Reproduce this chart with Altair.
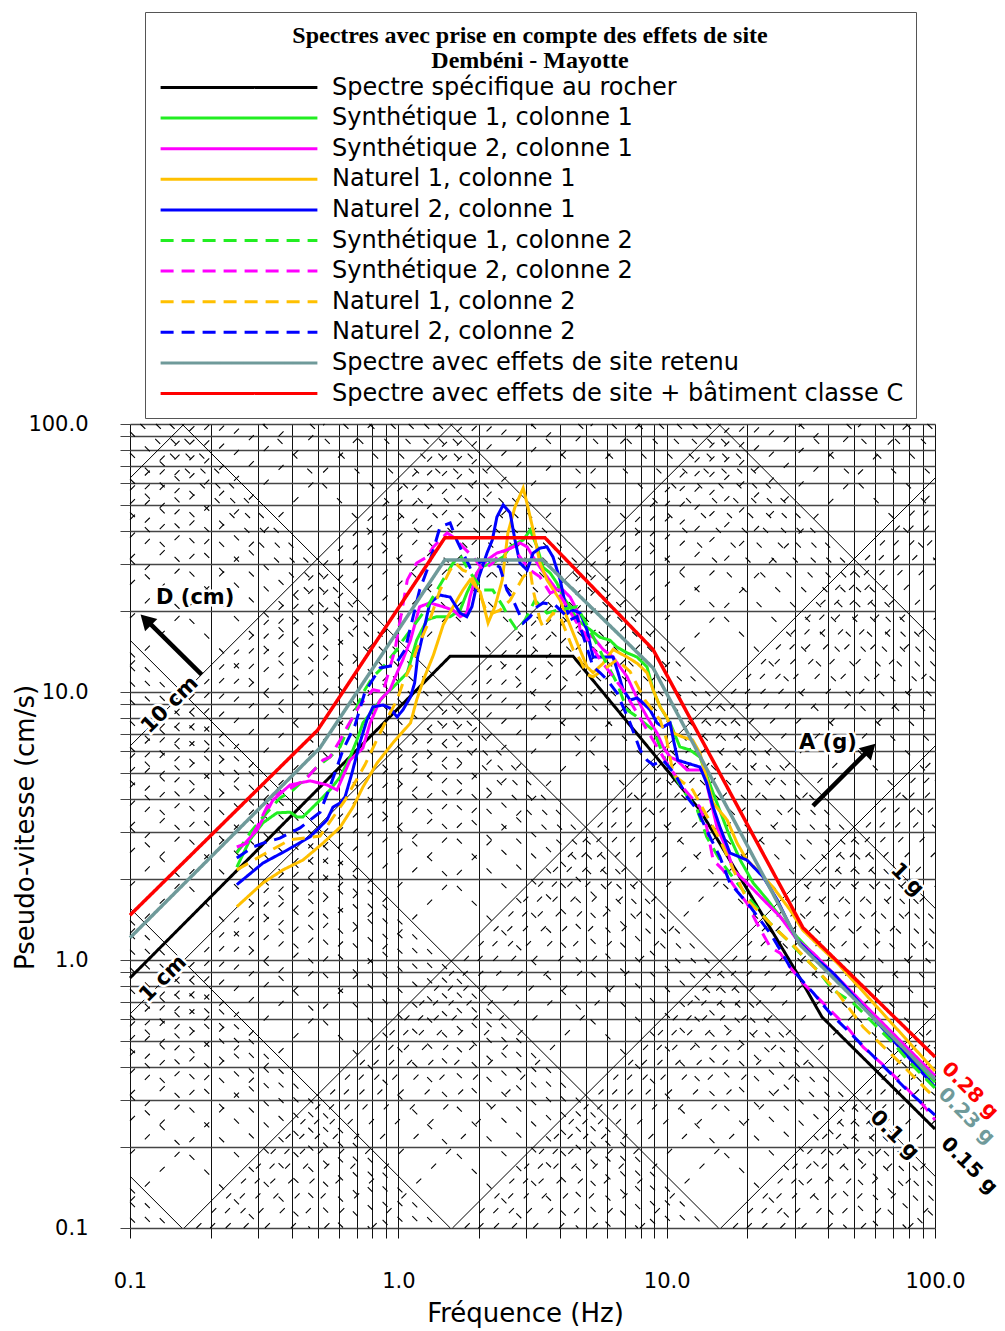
import numpy as np
import pandas as pd
import altair as alt

# ---------------- data (frequency Hz, pseudo-velocity cm/s) ----------------
series_names = [
    "Spectre spécifique au rocher",
    "Synthétique 1, colonne 1",
    "Synthétique 2, colonne 1",
    "Naturel 1, colonne 1",
    "Naturel 2, colonne 1",
    "Synthétique 1, colonne 2",
    "Synthétique 2, colonne 2",
    "Naturel 1, colonne 2",
    "Naturel 2, colonne 2",
    "Spectre avec effets de site retenu",
    "Spectre avec effets de site + bâtiment classe C",
]
series_colors = ["#000000", "#22ee22", "#ff00ff", "#ffc000", "#0000ff",
                 "#22ee22", "#ff00ff", "#ffc000", "#0000ff", "#6f9a9a", "#ff0000"]
series_dash = [[1, 0]] * 5 + [[13, 8]] * 4 + [[1, 0]] * 2

rock = [(0.1, 0.857), (1.56, 13.6), (4.48, 13.6), (13.3, 3.63), (30.6, 0.894),
        (37.9, 0.613), (100, 0.234)]

synth1_c1 = [(0.25, 2.22), (0.28, 2.81), (0.313, 3.25), (0.353, 3.54), (0.395, 3.56),
             (0.419, 3.42), (0.441, 3.42), (0.498, 3.85), (0.556, 4.31), (0.607, 4.82),
             (0.661, 5.72), (0.701, 6.62), (0.738, 7.66), (0.804, 8.57), (0.877, 9.58),
             (0.955, 10.4), (1.08, 11.8), (1.17, 15.6), (1.28, 18.6), (1.39, 19.1),
             (1.56, 19.1), (1.70, 20.2), (1.80, 23.4), (1.90, 26.2), (2.02, 29.2),
             (2.25, 30.3), (2.46, 31.9), (2.61, 34.8), (2.77, 36.0), (2.92, 36.9),
             (3.10, 40.2), (3.29, 34.8), (3.46, 29.2), (3.68, 27.8), (3.90, 25.5),
             (4.11, 22.6), (4.37, 20.8), (4.63, 18.6), (5.65, 16.0), (6.15, 15.6),
             (6.53, 14.7), (7.12, 14.0), (7.76, 13.5), (8.45, 12.4), (8.90, 10.2),
             (9.45, 8.80), (10.3, 7.66), (11.2, 6.24), (12.2, 6.08), (13.3, 5.72),
             (14.9, 4.20), (17.2, 2.88), (18.8, 2.36), (21.0, 1.94), (23.7, 1.68),
             (26.5, 1.45), (30.6, 1.22), (100, 0.35)]

synth2_c1 = [(0.25, 2.53), (0.297, 3.05), (0.341, 3.95), (0.395, 4.50), (0.469, 4.66),
             (0.542, 4.50), (0.591, 4.31), (0.661, 5.57), (0.738, 6.18), (0.785, 7.66),
             (0.855, 9.33), (0.931, 10.2), (0.989, 11.8), (1.04, 13.2), (1.11, 15.6),
             (1.20, 20.8), (1.31, 21.5), (1.47, 20.8), (1.60, 20.2), (1.70, 19.1),
             (1.80, 19.7), (1.85, 22.6), (1.96, 27.8), (2.14, 31.1), (2.33, 33.0),
             (2.54, 33.9), (2.68, 34.8), (2.84, 36.0), (3.02, 34.8), (3.18, 31.9),
             (3.37, 29.2), (3.90, 24.0), (4.11, 24.0), (4.37, 22.6), (4.63, 20.2),
             (4.76, 17.0), (5.32, 16.0), (5.80, 14.4), (6.31, 13.5), (6.70, 12.4),
             (7.12, 11.4), (7.50, 10.2), (8.05, 8.80), (8.45, 8.07), (9.21, 7.03),
             (9.70, 6.24), (10.3, 5.72), (10.9, 5.57), (11.9, 5.12), (13.7, 5.12),
             (15.4, 3.13), (16.8, 2.57), (17.7, 2.17), (19.9, 1.94), (22.9, 1.68),
             (26.5, 1.45), (30.6, 1.19), (35.2, 1.06), (100, 0.37)]

natural1_c1 = [(0.25, 1.58), (0.313, 1.94), (0.372, 2.17), (0.441, 2.36), (0.524, 2.73),
               (0.607, 3.13), (0.678, 3.72), (0.738, 4.42), (0.833, 5.43), (0.955, 6.46),
               (1.11, 7.66), (1.17, 9.33), (1.24, 11.1), (1.35, 13.7), (1.47, 17.8),
               (1.60, 20.8), (1.74, 24.0), (1.85, 26.2), (2.02, 23.6), (2.16, 18.1),
               (2.29, 20.8), (2.44, 26.2), (2.56, 39.2), (2.72, 49.0), (2.92, 57.7),
               (3.04, 49.0), (3.18, 40.2), (3.37, 30.3), (3.58, 26.2), (4.01, 22.0),
               (4.48, 16.6), (5.05, 12.4), (5.32, 11.8), (5.80, 12.8), (6.31, 14.4),
               (7.12, 13.5), (7.76, 12.8), (8.45, 11.8), (8.90, 10.2), (9.45, 8.80),
               (10.0, 8.07), (10.6, 7.03), (11.5, 6.79), (12.5, 6.62), (13.3, 5.92),
               (14.9, 3.85), (16.8, 3.33), (18.3, 2.73), (19.9, 2.36), (21.7, 2.17),
               (24.9, 1.87), (28.8, 1.54), (32.2, 1.29), (37.3, 1.12), (43.2, 0.975),
               (100, 0.385)]

natural2_c1 = [(0.25, 1.91), (0.313, 2.30), (0.385, 2.57), (0.469, 2.88), (0.542, 3.33),
               (0.571, 3.72), (0.607, 3.85), (0.633, 4.06), (0.672, 4.99), (0.719, 6.46),
               (0.764, 7.87), (0.804, 8.80), (0.877, 8.94), (0.931, 8.71), (0.989, 8.07),
               (1.04, 8.57), (1.11, 9.58), (1.15, 10.8), (1.18, 13.5), (1.22, 15.6),
               (1.31, 21.5), (1.43, 23.0), (1.56, 22.6), (1.70, 19.7), (1.80, 19.1),
               (1.88, 20.8), (1.98, 26.2), (2.14, 33.0), (2.24, 36.9), (2.33, 45.0),
               (2.46, 49.9), (2.61, 46.6), (2.72, 36.9), (2.84, 30.3), (3.02, 28.5),
               (3.18, 33.0), (3.37, 34.4), (3.58, 34.8), (3.77, 31.9), (4.01, 26.2),
               (4.18, 21.5), (4.29, 19.7), (4.48, 20.2), (4.76, 19.7), (5.05, 17.0),
               (5.32, 13.5), (5.80, 13.5), (6.31, 13.5), (6.59, 11.8), (6.88, 10.2),
               (7.31, 9.33), (7.76, 9.50), (8.17, 9.10), (8.67, 8.57), (9.21, 7.66),
               (9.70, 7.40), (10.3, 7.66), (10.6, 6.62), (11.0, 5.57), (11.9, 5.43),
               (13.3, 5.25), (14.1, 4.57), (14.9, 3.72), (15.8, 3.13), (17.2, 2.51),
               (19.9, 2.36), (22.9, 2.04), (25.8, 1.68), (28.1, 1.41), (30.6, 1.19),
               (35.2, 1.03), (41.7, 0.894), (100, 0.336)]

synth1_c2 = [(0.25, 2.51), (0.28, 2.98), (0.313, 3.42), (0.362, 4.02), (0.405, 4.31),
             (0.457, 4.82), (0.498, 5.25), (0.556, 5.72), (0.607, 6.24), (0.661, 7.66),
             (0.701, 8.80), (0.738, 9.92), (0.804, 11.4), (0.877, 12.4), (0.989, 14.4),
             (1.04, 15.6), (1.26, 20.2), (1.52, 27.8), (1.60, 30.3), (1.70, 32.4),
             (1.80, 29.2), (1.90, 26.9), (2.07, 24.0), (2.25, 24.0), (2.46, 20.8),
             (2.61, 18.6), (2.77, 17.0), (2.97, 18.6), (3.23, 22.0), (3.58, 19.7),
             (3.90, 20.2), (4.63, 20.8), (5.18, 17.0), (5.80, 13.5), (6.53, 10.8),
             (7.12, 8.57), (7.76, 8.07), (8.90, 7.21), (9.45, 6.24), (10.0, 5.43),
             (11.5, 4.31), (13.0, 3.63), (14.1, 2.88), (15.8, 2.36), (18.3, 1.94),
             (21.0, 1.63), (24.3, 1.37), (28.1, 1.19), (31.4, 1.06), (36.4, 0.918),
             (41.7, 0.773), (49.5, 0.692), (58.8, 0.582), (69.8, 0.490), (80.8, 0.413),
             (100, 0.333)]

synth2_c2 = [(0.25, 2.64), (0.273, 2.73), (0.297, 3.13), (0.341, 4.13), (0.385, 4.31),
             (0.449, 4.70), (0.524, 5.57), (0.556, 5.72), (0.607, 6.62), (0.644, 7.40),
             (0.719, 8.94), (0.804, 10.2), (0.877, 10.0), (0.972, 14.4), (1.08, 26.2),
             (1.17, 30.3), (1.28, 31.9), (1.35, 34.8), (1.52, 39.2), (1.60, 37.9),
             (1.74, 34.8), (1.90, 31.9), (2.07, 28.5), (2.25, 30.3), (2.39, 33.0),
             (2.68, 34.8), (2.84, 31.9), (3.10, 28.5), (3.37, 26.9), (3.68, 23.4),
             (3.90, 24.0), (4.63, 18.1), (5.65, 13.2), (6.88, 10.2), (7.76, 8.35),
             (8.45, 7.21), (9.86, 5.57), (11.7, 4.31), (13.3, 3.72), (14.1, 3.13),
             (14.9, 2.36), (16.2, 2.17), (18.3, 1.82), (19.9, 1.63), (21.7, 1.37),
             (24.3, 1.12), (26.5, 1.06), (28.8, 0.942), (32.2, 0.820), (39.6, 0.668),
             (47.0, 0.562), (54.0, 0.473), (64.1, 0.406), (76.0, 0.342), (90.3, 0.288),
             (100, 0.253)]

natural1_c2 = [(0.25, 2.17), (0.313, 2.47), (0.395, 2.81), (0.511, 2.90), (0.633, 3.95),
               (0.751, 5.35), (0.855, 7.03), (0.931, 8.35), (0.989, 9.33), (1.04, 10.8),
               (1.11, 12.4), (1.17, 14.4), (1.31, 18.6), (1.43, 24.0), (1.56, 28.5),
               (1.63, 30.3), (1.74, 28.5), (1.85, 27.8), (2.02, 23.0), (2.14, 19.7),
               (2.25, 19.7), (2.39, 20.2), (2.61, 22.0), (2.92, 26.9), (3.10, 28.5),
               (3.18, 24.0), (3.37, 18.6), (3.46, 17.5), (3.77, 19.7), (4.01, 19.1),
               (4.48, 14.4), (4.76, 13.2), (5.05, 11.6), (5.32, 11.4), (6.00, 12.4),
               (6.53, 13.2), (7.31, 11.9), (8.30, 9.33), (9.45, 7.87), (10.0, 6.62),
               (10.6, 4.90), (12.5, 4.31), (15.8, 2.81), (19.9, 1.68), (21.7, 1.54),
               (25.8, 1.29), (28.8, 1.17), (34.2, 0.975), (41.7, 0.793), (54.0, 0.562),
               (72.2, 0.424), (93.4, 0.327), (100, 0.306)]

natural2_c2 = [(0.25, 2.40), (0.287, 2.64), (0.313, 2.73), (0.362, 2.85), (0.430, 3.11),
               (0.511, 3.56), (0.556, 4.42), (0.622, 6.08), (0.690, 7.53), (0.751, 10.0),
               (0.855, 12.3), (0.972, 12.6), (1.06, 14.4), (1.20, 24.0), (1.28, 28.5),
               (1.35, 33.9), (1.43, 41.3), (1.56, 42.7), (1.65, 36.9), (1.74, 33.0),
               (1.85, 29.2), (2.02, 30.5), (2.14, 31.1), (2.39, 29.2), (2.54, 24.0),
               (2.68, 22.0), (2.92, 18.1), (3.10, 19.1), (3.29, 20.8), (3.46, 21.5),
               (3.84, 21.1), (4.37, 18.6), (4.63, 19.1), (5.32, 12.4), (5.65, 11.8),
               (6.00, 11.1), (6.53, 9.92), (6.88, 8.80), (7.31, 7.66), (7.96, 6.08),
               (8.45, 5.57), (8.90, 5.35), (9.70, 5.57), (10.8, 4.90), (11.9, 4.06),
               (13.0, 3.63), (14.5, 2.88), (15.8, 2.42), (17.2, 1.94), (20.5, 1.58),
               (22.3, 1.41), (24.3, 1.26), (26.5, 1.09), (28.8, 0.942), (35.2, 0.753),
               (40.6, 0.634), (48.3, 0.534), (57.3, 0.450), (66.3, 0.389), (78.7, 0.327),
               (100, 0.264)]

site_retained = [(0.1, 1.21), (0.51, 6.18), (1.49, 31.1), (3.45, 31.1), (8.9, 12.3),
                 (31.4, 1.14), (100, 0.359)]

site_building_c = [(0.1, 1.47), (0.5, 7.2), (1.49, 37.6), (3.52, 37.6), (8.9, 14.4),
                   (32.2, 1.32), (100, 0.435)]

series_points = [rock, synth1_c1, synth2_c1, natural1_c1, natural2_c1,
                 synth1_c2, synth2_c2, natural1_c2, natural2_c2,
                 site_retained, site_building_c]
series_width = [3, 3, 3, 3, 3, 3, 3, 3, 3, 3.5, 3.5]

# tick values of the log axes
tick_vals = [round(m * 10.0 ** e, 6) for e in (-1, 0, 1) for m in range(1, 10)] + [100.0]

# annotations: text, f, v, angle, colour, size
annot = [("D (cm)", 0.175, 22.4, 0, "black", 21), ("A (g)", 39.9, 6.46, 0, "black", 21),
         ("10 cm", 0.141, 8.94, 315, "black", 21), ("1 cm", 0.133, 0.85, 315, "black", 21),
         ("1 g", 78.7, 1.99, 45, "black", 21), ("0.1 g", 70.5, 0.222, 45, "black", 21),
         ("0.15 g", 134.0, 0.171, 45, "black", 20),
         ("0.23 g", 131.0, 0.262, 45, "#6f9a9a", 20),
         ("0.28 g", 135.0, 0.326, 45, "#ff0000", 20)]
arrow_D = [(0.185, 11.6), (0.118, 18.1)]
arrow_A = [(35.1, 3.76), (56.3, 6.03)]
arrow_heads = [(0.1146, 18.6, 315), (57.3, 6.12, 45)]

# ---------------- build tables ----------------
rows = []
for name, pts, w in zip(series_names, series_points, series_width):
    for i, (f, v) in enumerate(pts):
        rows.append({"series": name, "f": f, "v": v, "i": i, "w": w})
curves = pd.DataFrame(rows)

# tripartite diagonals (constant displacement in cm, constant acceleration in g)
diag_rows = []
lid = 0
for e in range(-5, 5):
    for m in range(1, 10):
        D = m * 10.0 ** e
        flo = max(0.1, 0.1 / (2 * np.pi * D))
        fhi = min(100.0, 100.0 / (2 * np.pi * D))
        if fhi > flo * 1.0001:
            for fv in (flo, fhi):
                diag_rows.append({"id": lid, "f": fv, "v": 2 * np.pi * fv * D, "solid": m == 1})
            lid += 1
for e in range(-6, 4):
    for m in range(1, 10):
        A = m * 10.0 ** e
        c = A * 981.0 / (2 * np.pi)
        flo = max(0.1, c / 100.0)
        fhi = min(100.0, c / 0.1)
        if fhi > flo * 1.0001:
            for fv in (flo, fhi):
                diag_rows.append({"id": lid, "f": fv, "v": c / fv, "solid": m == 1})
            lid += 1
diag = pd.DataFrame(diag_rows)

# ---------------- encodings ----------------
label_expr = ("datum.value == 0.1 || datum.value == 1 || datum.value == 10 || "
              "datum.value == 100 ? format(datum.value, '.1f') : ''")
xscale = alt.Scale(type="log", domain=[0.1, 100], nice=False)
yscale = alt.Scale(type="log", domain=[0.1, 100], nice=False)

x_axis = alt.Axis(values=tick_vals, labelExpr=label_expr, grid=True, gridColor="#111111",
                  gridWidth=1, tickSize=10, tickColor="#111111", domain=False,
                  labelFont="DejaVu Sans", labelFontSize=21, labelPadding=32,
                  labelColor="black", labelOverlap=False, labelFlush=False,
                  title="Fréquence (Hz)", titleFont="DejaVu Sans", titleFontSize=26,
                  titleFontWeight="normal", titleColor="black", titleY=85, titleX=395,
                  titleBaseline="middle")
y_axis = alt.Axis(values=tick_vals, labelExpr=label_expr, grid=True, gridColor="#444444",
                  gridWidth=1.3, tickSize=10, tickColor="#444444", domain=False,
                  labelFont="DejaVu Sans", labelFontSize=21, labelPadding=32,
                  labelColor="black", labelOverlap=False, labelFlush=False,
                  title="Pseudo-vitesse (cm/s)", titleFont="DejaVu Sans", titleFontSize=26,
                  titleFontWeight="normal", titleColor="black", titleX=-105, titleY=403,
                  titleBaseline="middle", titleAngle=270)

X = alt.X("f:Q", scale=xscale, axis=x_axis)
Y = alt.Y("v:Q", scale=yscale, axis=y_axis)

diag_solid = alt.Chart(diag[diag["solid"]]).mark_line(
    color="black", strokeWidth=1).encode(x=X, y=Y, detail="id:N")
diag_dash = alt.Chart(diag[~diag["solid"]]).mark_line(
    color="black", strokeWidth=1.1, strokeDash=[7, 14]).encode(x=X, y=Y, detail="id:N")

# legend symbol: long horizontal stroke drawn by a custom path (scaled by sqrt(size)/2)
legend = alt.Legend(
    title=["Spectres avec prise en compte des effets de site", "Dembéni - Mayotte"],
    orient="none", legendX=15, legendY=-412,
    titleFont="Liberation Serif", titleFontSize=24, titleFontWeight="bold",
    titleAnchor="middle", titleAlign="center", titleLineHeight=24.5, titlePadding=3,
    titleColor="black", titleLimit=2000,
    labelFont="DejaVu Sans", labelFontSize=24, labelColor="black", labelOffset=81,
    labelLimit=2000, symbolType="M-9.8,0H9.8", symbolSize=256, symbolStrokeWidth=3,
    symbolOffset=70, rowPadding=6.6, padding=12, strokeColor="#555555", fillColor="white")

curve_layer = alt.Chart(curves).mark_line().encode(
    x=X, y=Y,
    color=alt.Color("series:N", scale=alt.Scale(domain=series_names, range=series_colors),
                    legend=legend),
    strokeDash=alt.StrokeDash("series:N",
                              scale=alt.Scale(domain=series_names, range=series_dash),
                              legend=legend),
    strokeWidth=alt.StrokeWidth("w:Q", scale=None, legend=None),
    order=alt.Order("i:Q"),
)

# arrows
arr_df = pd.DataFrame([{"a": "D", "f": f, "v": v} for f, v in arrow_D] +
                      [{"a": "A", "f": f, "v": v} for f, v in arrow_A])
arrows = alt.Chart(arr_df).mark_line(color="black", strokeWidth=4.5).encode(
    x=X, y=Y, detail="a:N")
heads = []
for f, v, ang in arrow_heads:
    heads.append(alt.Chart(pd.DataFrame([{"f": f, "v": v}])).mark_point(
        shape="triangle-up", filled=True, color="black", size=300, angle=ang, opacity=1
    ).encode(x=X, y=Y))

# text annotations with white halo
text_layers = []
for txt, f, v, ang, col, fs in annot:
    d = pd.DataFrame([{"t": txt, "f": f, "v": v}])
    text_layers.append(alt.Chart(d).mark_text(
        font="DejaVu Sans", fontSize=fs, fontWeight="bold", stroke="white", strokeWidth=5,
        fill="white", angle=ang).encode(x=X, y=Y, text="t:N"))
    text_layers.append(alt.Chart(d).mark_text(
        font="DejaVu Sans", fontSize=fs, fontWeight="bold", color=col, angle=ang
    ).encode(x=X, y=Y, text="t:N"))

chart = alt.layer(diag_dash, diag_solid, curve_layer, arrows, *heads, *text_layers).properties(
    width=805, height=804,
    autosize=alt.AutoSizeParams(type="none"),
    padding={"left": 130, "top": 424, "right": 70, "bottom": 103},
).configure_view(stroke=None)

chart.save("out.html", embed_options={"renderer": "svg", "actions": False})
